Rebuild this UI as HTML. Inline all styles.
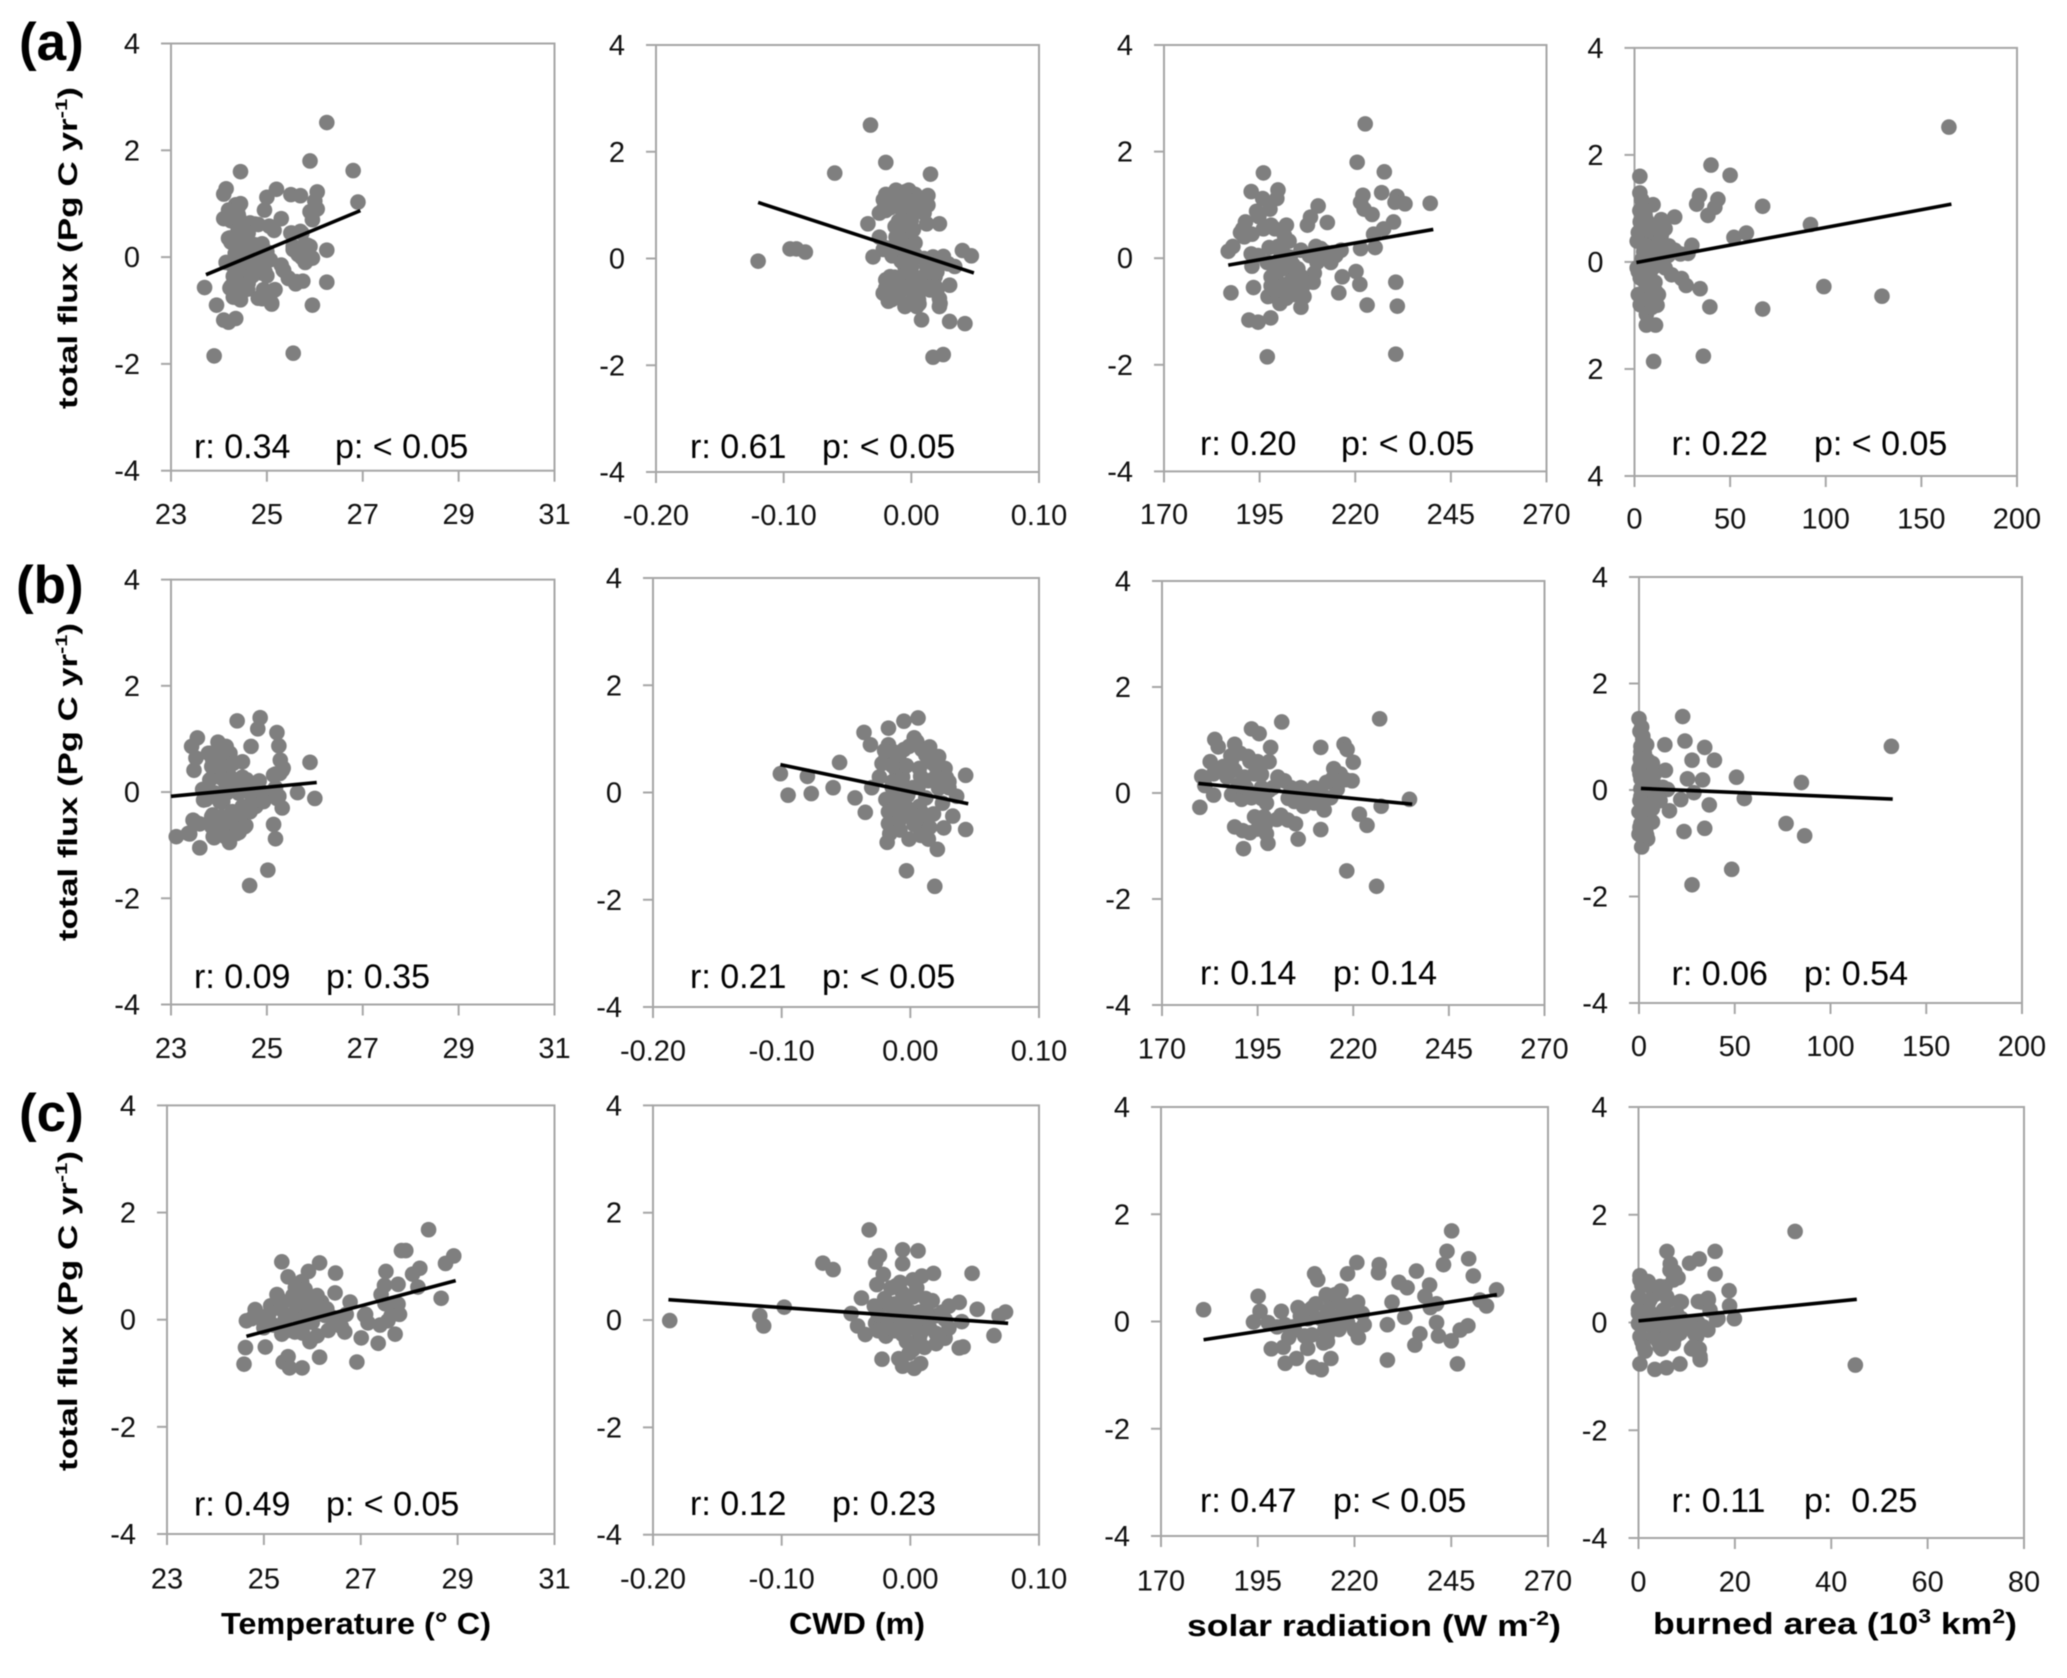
<!DOCTYPE html>
<html lang="en">
<head>
<meta charset="utf-8">
<title>Total flux versus climate drivers</title>
<style>
html,body{margin:0;padding:0;background:#fff;}
svg{display:block;filter:blur(0.5px);}
text{font-family:"Liberation Sans",sans-serif;fill:#000;}
.tick{font-size:29px;fill:#111;}
.note{font-size:34px;fill:#000;}
.bold{font-weight:bold;}
</style>
</head>
<body>
<svg id="chart" xmlns="http://www.w3.org/2000/svg" width="2067" height="1678" viewBox="0 0 2067 1678">
<rect x="0" y="0" width="2067" height="1678" fill="#fff"/>
<text class="bold" x="19" y="60" font-size="53">(a)</text>
<text class="bold" x="16" y="603" font-size="53">(b)</text>
<text class="bold" x="19" y="1131" font-size="53">(c)</text>
<text class="bold" font-size="27" text-anchor="middle" textLength="322" lengthAdjust="spacingAndGlyphs" transform="translate(77,248) rotate(-90)">total flux (Pg C yr<tspan font-size="17" dy="-10">-1</tspan><tspan dy="10">)</tspan></text>
<text class="bold" font-size="27" text-anchor="middle" textLength="318" lengthAdjust="spacingAndGlyphs" transform="translate(77,782) rotate(-90)">total flux (Pg C yr<tspan font-size="17" dy="-10">-1</tspan><tspan dy="10">)</tspan></text>
<text class="bold" font-size="27" text-anchor="middle" textLength="320" lengthAdjust="spacingAndGlyphs" transform="translate(77,1311) rotate(-90)">total flux (Pg C yr<tspan font-size="17" dy="-10">-1</tspan><tspan dy="10">)</tspan></text>
<text class="bold" x="221" y="1634" font-size="31" textLength="270" lengthAdjust="spacingAndGlyphs">Temperature (° C)</text>
<text class="bold" x="789" y="1634" font-size="31" textLength="136" lengthAdjust="spacingAndGlyphs">CWD (m)</text>
<text class="bold" x="1187" y="1636" font-size="31" textLength="374" lengthAdjust="spacingAndGlyphs">solar radiation (W m<tspan font-size="20" dy="-11">-2</tspan><tspan dy="11">)</tspan></text>
<text class="bold" x="1653" y="1634" font-size="31" textLength="364" lengthAdjust="spacingAndGlyphs">burned area (10<tspan font-size="20" dy="-11">3</tspan><tspan dy="11"> km</tspan><tspan font-size="20" dy="-11">2</tspan><tspan dy="11">)</tspan></text>
</svg>
<script>
// ---- axis values ----
const yTicks=[-4,-2,0,2,4];
const yTickLabels=["-4","-2","0","2","4"];
const yTickLabelsA4=["4","2","0","2","4"];
const tempTicks=[23,25,27,29,31];
const tempTickLabels=["23","25","27","29","31"];
const cwdTicks=[-0.2,-0.1,0,0.1];
const cwdTickLabels=["-0.20","-0.10","0.00","0.10"];
const solarTicks=[170,195,220,245,270];
const solarTickLabels=["170","195","220","245","270"];
const burnTicks=[0,50,100,150,200];
const burnTickLabels=["0","50","100","150","200"];
const burnTicksC=[0,20,40,60,80];
const burnTickLabelsC=["0","20","40","60","80"];

// ---- row (a) series ----
const a1X=[26.25,25.9,26.8,24.45,26.9,25.2,24.15,24.1,25.0,25.5,25.7,26.05,26.0,24.45,24.35,24.2,26.05,25.9,24.95,24.4,25.95,25.3,24.1,24.25,24.75,25.05,24.5,24.4,25.15,25.5,25.7,24.2,24.25,24.5,24.6,24.9,25.85,26.25,25.8,25.55,25.65,25.9,25.95,25.8,24.8,25.0,24.5,24.7,24.15,24.45,24.95,25.3,25.35,24.9,25.0,24.7,24.6,25.45,25.6,25.75,26.25,24.4,24.25,23.7,24.4,24.6,25.15,25.0,24.3,24.45,24.9,25.1,25.95,23.95,24.35,24.1,24.2,23.9,25.55,
24.41,24.23,24.41,24.65,24.82,24.23,24.41,24.61,24.34,24.54,24.75,24.93,25.07,24.30,24.54,24.79,24.30,24.48,24.72,24.96,24.23,24.41,24.61,24.41,25.52,25.73,25.55,25.76,25.90,25.73,25.90,25.55,25.34,25.45,25.62,24.93,25.17,25.03,24.82,25.10];
const a1Y=[2.52,1.8,1.62,1.6,1.03,1.27,1.28,1.18,1.12,1.17,1.15,1.22,1.05,1.0,0.98,0.88,0.9,0.85,0.88,0.8,0.7,0.72,0.72,0.68,0.62,0.58,0.6,0.5,0.5,0.45,0.48,0.35,0.28,0.35,0.3,0.25,0.22,0.13,0.1,0.15,0.05,0,-0.02,-0.1,0.1,0.1,0.1,-0.05,-0.1,-0.15,-0.1,-0.15,-0.25,-0.3,-0.35,-0.35,-0.4,-0.4,-0.5,-0.45,-0.47,-0.45,-0.55,-0.57,-0.7,-0.6,-0.62,-0.65,-0.75,-0.8,-0.78,-0.88,-0.9,-0.9,-1.15,-1.18,-1.22,-1.85,-1.8,
0.95,0.76,0.76,0.64,0.61,0.36,0.33,0.45,0.07,0.2,0.23,0.11,-0.05,-0.17,-0.11,-0.11,-0.36,-0.36,-0.30,-0.27,-0.58,-0.58,-0.49,-0.77,0.45,0.45,0.2,0.2,0.2,-0.01,-0.02,0.14,-0.24,-0.39,-0.46,-0.61,-0.61,-0.74,-0.77,-0.86];
const a1TrendX=[23.73,26.95];
const a1TrendY=[-0.33,0.87];

const a2X=[-0.12,-0.095,-0.09,-0.083,-0.06,-0.032,-0.02,0.015,0.013,-0.02,-0.018,-0.012,-0.005,-0.002,0.003,0.008,0.013,-0.012,-0.02,-0.025,-0.008,0.002,-0.002,0.01,0.022,0.012,-0.034,-0.01,-0.005,0,-0.008,-0.003,-0.012,-0.01,-0.03,-0.025,-0.02,-0.015,-0.005,0,-0.005,0.01,0.017,0.022,0.029,0.04,0.047,0.034,0,-0.008,-0.005,-0.013,-0.02,0,-0.005,0.01,0.015,0.02,0.03,-0.02,-0.022,-0.018,-0.01,-0.01,0,0.005,-0.002,-0.005,0.006,0.015,0.02,0.022,0.022,0.008,0.03,0.042,0.017,0.025,
-0.0219,-0.0127,-0.0036,0.0042,-0.0166,-0.0088,0.0003,-0.0219,-0.0127,-0.0049,0.0016,-0.0101,-0.0023,0.0029,-0.0219,-0.0127,-0.0036,0.0029,-0.0062,0.0003,0.0121,0.0199,-0.0166,-0.0075,0.0016,0.0095,0.0186,-0.0166,-0.0075,0.0003,0.0095,0.0186,-0.0153,-0.0036,0.0056,0.0147,0.0225,0.0042,0.0251];
const a2Y=[-0.05,0.18,0.18,0.12,1.6,2.5,1.8,1.58,1.18,1.2,1.1,1.28,1.25,1.28,1.2,1.1,1.0,1.05,0.9,0.85,0.95,0.95,0.85,0.85,0.65,0.65,0.65,0.7,0.7,0.72,0.55,0.5,0.4,0.45,0.03,0.4,0.2,0.05,0.2,0.3,0.38,0,0.03,-0.05,-0.1,0.15,0.05,-0.15,-0.05,-0.05,-0.15,-0.35,-0.4,-0.3,-0.5,-0.4,-0.3,-0.25,-0.5,-0.55,-0.65,-0.8,-0.7,-0.55,-0.6,-0.7,-0.85,-0.9,-0.85,-0.55,-0.6,-0.75,-0.9,-1.15,-1.18,-1.22,-1.85,-1.8,
1.1,1.17,1.17,1.1,0.95,0.95,0.95,0.92,0.6,0.6,0.54,0.42,0.35,0.29,0.17,0.17,0.1,0.07,-0.05,-0.15,-0.15,-0.15,-0.34,-0.34,-0.34,-0.34,-0.34,-0.59,-0.52,-0.59,-0.52,-0.52,-0.77,-0.87,-0.77,-0.59,-0.84,-0.9,0.04];
const a2TrendX=[-0.12,0.049];
const a2TrendY=[1.05,-0.27];

const a3X=[186.8,188,187.5,190.6,191.3,190,192.8,195.8,196,199.8,199.5,197.7,194.2,194.8,192.8,193,194.6,193.4,197.5,198,199,202,201.5,202.7,199.8,200.6,197,199,192.2,194.6,197.9,197,203.7,204,203,199.8,201.5,198,197.2,199.8,200.3,202.4,204,205.8,206.6,207.5,209.3,210,205.8,209.7,211,213.6,216.3,214.9,216.6,215.7,207.5,208.3,210.3,212.7,220.5,221.4,222,222.3,224.4,222.6,227.6,226.9,230.9,230.4,233,239.6,230,227.4,224.8,221.4,225.2,220.2,221.2,223.1,230.6,231,230.6,
201,203,205,201,206,199,202,206,198,201,204,208,196,209,212,214,193,191];
const a3Y=[0.13,0.22,-0.65,0.55,0.68,0.48,1.25,1.12,1.6,1.28,1.12,0.92,0.88,0.78,0.08,-0.15,0.05,-0.55,0.2,0.62,0.55,0.62,0.42,0.32,0.22,0.08,-0.08,-0.15,-1.16,-1.2,-1.12,-1.85,-0.12,-0.32,-0.45,-0.45,-0.5,-0.52,-0.72,-0.7,-0.85,-0.65,-0.68,-0.92,-0.72,-0.45,-0.28,-0.08,0.15,0.22,0.18,-0.08,0.15,0.05,-0.35,-0.65,0.62,0.77,0.98,0.67,1.8,1.05,1.18,0.92,0.82,2.52,1.62,1.23,1.16,1.05,1.02,1.03,0.68,0.55,0.45,0.18,0.2,-0.25,-0.49,-0.88,-0.45,-0.9,-1.8,
0.12,0.02,-0.2,-0.2,-0.35,-0.6,-0.75,-0.6,-0.35,-0.6,-0.45,0.05,0.55,-0.45,0.12,0.1,0.45,0.4];
const a3TrendX=[186.8,240.4];
const a3TrendY=[-0.13,0.54];

const a4X=[164.4,40,50,2.8,34,43.6,32.5,42,67,38.4,92,58.5,52,99,129.4,67,39.4,34.3,36,10,6.2,11,2.8,3.8,9.7,2.8,5.5,21,14,16,4,10.7,1.4,5.5,12.5,9,30,28,21,17.6,1.4,7.3,10.7,16,19.4,24.6,27,2,5.5,10.7,3.8,7.3,11.8,12.5,3.8,9,6.2,2,8.3,14,4.8,
3,6,10,14,6,11,4,8,14,3,7,11,5,9,13,2,16,7,4,12,3,7,18,24];
const a4Y=[2.52,1.81,1.62,1.6,1.24,1.17,1.08,1.02,1.04,0.87,0.7,0.54,0.46,-0.46,-0.64,-0.88,-0.84,-0.5,-1.76,-1.86,-1.18,-1.18,1.29,1.16,1.07,0.96,0.89,0.84,0.79,0.62,0.69,0.69,0.39,0.46,0.46,0.26,0.31,0.16,0.22,0.12,-0.11,0.02,-0.08,-0.11,-0.24,-0.31,-0.44,-0.61,-0.38,-0.38,-0.78,-0.88,-0.81,-0.61,-0.31,-0.64,-0.98,-0.18,-0.18,0.26,0.19,
0.75,0.8,0.55,0.5,0.3,0.1,0.05,0.15,0.02,-0.3,-0.45,-0.55,-0.65,-0.85,0.35,0.55,0.3,0.6,1.0,0.7,-0.8,-0.7,0.3,0.15];
const a4TrendX=[1,165.7];
const a4TrendY=[-0.01,1.08];

// ---- row (b) series ----
const b1X=[24.86,24.38,24.81,25.21,23.55,23.43,23.98,24.15,24.67,25.25,23.52,23.48,23.8,23.87,24.15,24.49,25.28,25.9,25.32,25.18,24,24.2,23.87,24.49,24.84,24.15,23.66,25.64,26,25.18,24.7,24.42,23.73,24.08,24.9,25.25,25.32,24.77,24.49,24.28,23.87,23.46,23.6,25.14,23.39,23.11,23.9,24.22,23.6,25.18,24.56,24.08,24.42,24.28,25.02,24.64,
23.78,24.02,24.23,23.85,24.09,24.30,23.81,24.06,24.34,24.58,24.82,23.71,23.92,24.16,24.41,24.65,24.93,25.14,23.68,24.02,24.68,24.93,25.21,24.65,24.44,23.85,24.06,24.27,23.85,24.06,24.30,24.54,23.88,24.13,24.37,25.27,25.34,25.14,23.5,23.36];
const b1Y=[1.4,1.34,1.19,1.12,1.02,0.86,0.94,0.86,0.86,0.87,0.64,0.41,0.73,0.6,0.6,0.57,0.6,0.56,0.41,0.34,0.41,0.34,0.28,0.28,0.21,0.15,0.05,-0.01,-0.12,0.08,0.05,0.08,-0.14,-0.18,-0.08,-0.08,-0.3,-0.27,-0.27,-0.37,-0.43,-0.53,-0.6,-0.61,-0.79,-0.84,-0.86,-0.95,-1.05,-0.88,-0.63,-0.66,-0.76,-0.63,-1.47,-1.76,
0.73,0.7,0.73,0.48,0.48,0.54,0.23,0.26,0.23,0.23,0.16,0.01,-0.02,-0.02,-0.02,-0.02,-0.02,-0.02,-0.15,-0.18,-0.21,-0.18,-0.12,-0.37,-0.46,-0.46,-0.46,-0.5,-0.65,-0.68,-0.68,-0.65,-0.84,-0.84,-0.78,0.35,0.45,0.32,-0.56,-0.78];
const b1TrendX=[23.0,26.04];
const b1TrendY=[-0.08,0.18];

const b2X=[-0.101,-0.095,-0.08,-0.077,-0.06,-0.055,-0.043,-0.035,-0.036,-0.031,-0.017,-0.005,0.006,0.003,-0.001,-0.017,-0.019,-0.011,-0.022,-0.009,0.009,0.022,0.007,0.027,0.02,0.043,-0.024,-0.006,0.014,-0.03,0.03,-0.014,0.002,0.036,-0.019,-0.006,0.007,0.025,-0.017,0.002,-0.017,0.033,0.007,0.026,0.043,-0.016,-0.001,-0.018,0.014,0.021,-0.003,0.019,
-0.012,-0.005,0.005,0.012,0.017,0.008,-0.003,-0.014,-0.008,0.02,0.022,0.006,-0.012,-0.002,0.012,-0.012,-0.002,0.01,0.018,-0.008,0.003,0.015,0.008,-0.008,-0.014,0.028,0.03,-0.02,0.015];
const b2Y=[0.35,-0.05,0.3,-0.02,0.09,0.56,-0.1,-0.37,1.12,0.89,1.2,1.33,1.39,1.02,0.86,0.89,0.64,0.41,0.54,0.67,0.8,0.67,0.45,0.45,0.48,0.32,0.29,0.29,0.22,0.09,0.09,0.09,0.09,-0.07,-0.13,-0.16,-0.26,-0.2,-0.36,-0.42,-0.58,-0.44,-0.61,-0.66,-0.69,-0.77,-0.87,-0.93,-0.87,-1.06,-1.46,-1.75,
0.75,0.8,0.95,0.7,0.55,0.3,0.5,0.5,0.15,0.3,0.08,0.1,-0.1,-0.05,-0.1,-0.3,-0.3,-0.4,-0.4,-0.5,-0.6,-0.65,-0.8,-0.7,0.2,0.28,0.2,0.78,0.85];
const b2TrendX=[-0.101,0.045];
const b2TrendY=[0.52,-0.21];

const b3X=[179.9,180.4,181.2,183.5,182.6,183.8,184.7,183.5,189,193.4,195.4,201.3,198.4,190.4,188.2,192.5,195,198,189,191.6,194.2,200.3,202,188.2,190.8,193.4,196,197.3,203.7,206.3,209.8,204.6,207.2,209.8,212.4,214.1,215.8,214.9,216.6,214.6,219.7,220,217.6,218.4,211.5,201.1,202.9,204.9,189,191.1,194.2,196.7,195,197.3,197.7,191.3,205.6,211.5,221.6,223.6,227.3,234.7,226.9,218.3,226.1,
186,193,196,192,196,190,199,204,208,212,215,218,198,203,207,200,193,197,187,213,194,188];
const b3Y=[-0.27,0.31,0.14,0.36,0.59,1.01,0.87,-0.04,0.92,1.21,1.12,1.34,0.86,0.75,0.62,0.69,0.59,0.59,0.43,0.3,0.36,0.3,0.23,-0.03,-0.12,-0.09,0.1,-0.19,0.1,0.1,0.1,-0.16,-0.16,-0.19,-0.32,-0.09,0.07,0.46,0.36,0.27,0.23,0.58,0.92,0.82,0.86,-0.42,-0.51,-0.58,-0.64,-0.71,-0.45,-0.45,-0.68,-0.77,-0.95,-1.05,-0.87,-0.69,-0.4,-0.61,-0.25,-0.12,1.4,-1.47,-1.76,
0.5,0.6,0.35,0.1,-0.1,0.15,0.1,0.02,-0.05,-0.05,0.2,0.25,0.05,-0.1,-0.25,-0.5,-0.75,-0.6,0.3,0.2,-0.02,0.7];
const b3TrendX=[179.5,235.4];
const b3TrendY=[0.18,-0.21];

const b4X=[0,1.4,2,1,2.8,0.7,4.5,7,0,2.8,1,8,13.8,13.5,22.8,24,34.3,27.7,39.4,25.3,33.2,50.9,84.8,131.8,12.5,14.9,28.7,21.8,36.7,55,15.9,8,1,4.5,0,7,2.8,1,3.5,0,4.5,1.4,9.7,5.5,23.5,34.3,76.8,86.5,48.4,27.7,
0.5,2,1,3,5,1,0.5,4,1,6,3,6,0.5,2,5,1,3,7,0.5,2,10,8,11,3,4,4,7];
const b4Y=[1.34,1.18,1.01,0.82,0.69,0.59,0.56,0.43,0.4,0.3,0.21,0.11,0.37,0.85,1.38,0.92,0.8,0.56,0.56,0.21,0.19,0.24,0.14,0.82,0.05,0.01,-0.05,-0.18,-0.28,-0.16,-0.39,-0.21,-0.12,-0.31,-0.41,-0.6,-0.5,-0.63,-0.76,-0.83,-0.92,-1.07,-0.08,-0.02,-0.78,-0.72,-0.63,-0.86,-1.49,-1.78,
1.1,0.95,0.72,0.45,0.4,0.5,0.3,0.15,0.02,0.25,-0.05,-0.1,-0.2,-0.25,-0.5,-0.4,-0.65,-0.35,-0.7,-0.9,0.02,0.3,-0.2,0.6,0.85,-0.85,0.5];
const b4TrendX=[1,132.5];
const b4TrendY=[0.03,-0.17];

// ---- row (c) series ----
const c1X=[28.4,27.84,27.93,28.92,28.75,28.22,28.07,27.52,27.77,28.18,27.49,27.42,28.66,27.77,27.63,27.56,27.71,27.36,27.08,27.15,27.01,26.92,25.37,26.15,26.48,25.5,25.92,25.78,25.27,26.47,25.85,25.58,26.78,26.19,25.14,24.82,25.99,25.71,24.64,24.96,25.44,25.78,26.26,26.53,26.67,26.33,25.37,25.64,25.95,24.62,25.03,26.15,25.5,25.4,25.53,25.79,24.59,26.6,
25.1,25.35,25.6,25.8,26.1,26.3,25.6,25.8,26.05,25.2,25.5,25.8,26,26.4,26.7,25.85,25.3,25.65,27.1,27.4,27.8,26.1,25,25.7,27.5,24.75];
const c1Y=[1.68,1.29,1.29,1.19,1.05,0.96,0.85,0.9,0.66,0.61,0.64,0.47,0.4,0.29,0.08,-0.02,-0.27,-0.44,0.08,-0.06,-0.34,-0.79,1.08,1.06,0.87,0.8,0.9,0.71,0.47,0.5,0.57,0.36,0.33,0.33,0.26,0.19,0.29,0.22,-0.02,0.01,0.01,-0.02,0.08,-0.06,-0.23,-0.2,-0.27,-0.23,-0.41,-0.52,-0.51,-0.7,-0.69,-0.79,-0.9,-0.9,-0.83,-0.13,
0.1,0.2,0.45,0.4,0.45,0.2,0.1,0.15,0.15,-0.1,-0.2,-0.25,-0.05,0.05,0.1,0.05,0.4,0.6,0.1,-0.1,0.1,-0.3,-0.15,0.32,0.3,0.02];
const c1TrendX=[24.64,28.96];
const c1TrendY=[-0.31,0.73];

const c2X=[-0.187,-0.117,-0.114,-0.098,-0.068,-0.06,-0.046,-0.041,-0.032,-0.024,-0.027,-0.021,-0.026,-0.038,-0.006,0.006,-0.006,0.018,0.009,0.002,-0.011,-0.006,0.002,0.048,0.017,0.038,0.052,0.03,0.074,0.069,-0.028,-0.017,-0.006,0.007,0.02,-0.027,-0.017,-0.004,0.012,0.027,0.04,-0.035,-0.019,-0.006,0.007,0.02,0.027,0.011,0.038,0.041,0.065,-0.022,-0.009,-0.006,0.003,0.008,-0.001,
-0.02,-0.012,-0.005,0.005,0,-0.012,0.012,0.025,-0.025,-0.015,-0.008,0.003,0.013,-0.025,-0.012,0.002,0.015,0.03,-0.003,0.008,0.02,-0.008,0.002,-0.015,0.012];
const c2Y=[-0.01,0.08,-0.11,0.24,1.06,0.94,0.12,-0.11,1.68,1.2,1.08,0.85,0.66,0.41,1.31,1.29,1.05,0.87,0.82,0.75,0.64,0.5,0.43,0.87,0.36,0.33,0.2,0.26,0.15,0.08,0.26,0.29,0.26,0.15,0.08,-0.06,-0.06,-0.02,-0.06,0.01,-0.03,-0.27,-0.3,-0.27,-0.34,-0.44,-0.34,-0.51,-0.52,-0.5,-0.29,-0.73,-0.72,-0.86,-0.9,-0.81,-0.62,
0.4,0.3,0.35,0.6,0.15,0.1,0.4,0.15,0.1,0.05,-0.12,0.05,0.1,-0.2,-0.2,-0.15,-0.15,-0.15,-0.4,-0.25,-0.25,0.7,-0.55,0.6,0.2];
const c2TrendX=[-0.188,0.076];
const c2TrendY=[0.38,-0.06];

const c3X=[181,195.1,193.9,195.6,198.5,201.6,202.1,205,209.3,211.4,213.9,207.9,213,201.1,205.4,197.7,202,204.5,207.1,209.7,210.5,210,212.7,216.5,218.2,220.6,226.4,226.2,220.8,216.5,213,211.4,214.9,212.3,218.2,222.5,220,221,228.5,228.5,229.7,233,231.5,233.6,236,239.4,238.2,239.6,241.2,236.9,235.6,241.2,241.7,245,247.3,249.3,246.6,243,243.9,245.1,249.5,250.7,256.7,252.4,254.1,
204,208,212,216,219,209,213,216,208,214,219,212,200,206,222,203,215,209];
const c3Y=[0.22,0.47,-0.01,0.19,-0.51,-0.48,-0.78,-0.69,-0.85,-0.9,-0.69,-0.5,-0.37,0.19,0.26,-0.02,-0.06,-0.16,-0.27,0.89,0.78,0.33,0.5,0.57,0.89,1.1,1.06,0.91,0.36,0.33,0.19,0.05,-0.02,-0.16,-0.02,-0.06,-0.16,-0.3,-0.72,-0.06,0.36,0.08,0.73,0.63,0.94,0.68,0.47,0.26,0.33,-0.23,-0.44,-0.02,-0.27,-0.36,-0.16,-0.08,-0.79,1.06,1.31,1.69,1.17,0.85,0.59,0.4,0.29,
-0.1,0.05,0.05,0.1,0.2,-0.25,-0.25,-0.15,0.2,0.35,0.3,-0.4,-0.1,0.1,0.15,-0.3,0.5,0.25];
const c3TrendX=[181,256.8];
const c3TrendY=[-0.34,0.5];

const c4X=[32.5,45,5.9,15.9,12.6,10.6,6.6,15.9,7.5,8.2,0.3,2,0.7,5.5,18.8,14.4,13,8.9,6.2,3.4,0,2,18.9,19.9,16.5,0,3.4,6.2,8.9,12.3,14.4,0.7,3.4,6.2,8.9,11.7,0.7,4.1,7.5,1.4,4.8,11,12.6,12.8,0.3,3.4,5.8,8.6,
0.31,2.39,4.46,6.54,7.23,0,2.39,5.85,8.61,0,2.39,5.16,7.92,0,2.39,5.16,7.92,10.69,13.45,16.22,0.31,3.08,5.85,8.61,12.07,1.0,4.46,7.23,11.38,12.76,12.42,14.49,14.84];
const c4Y=[1.69,-0.79,1.32,1.32,1.18,1.1,1.09,0.9,0.94,0.83,0.87,0.76,0.69,0.66,0.59,0.45,0.38,0.38,0.41,0.52,0.48,0.34,0.31,0.07,0.07,0.17,0.14,0.14,0.07,0,-0.14,-0.07,-0.14,-0.14,-0.14,-0.21,-0.35,-0.35,-0.28,-0.53,-0.49,-0.49,-0.49,-0.69,-0.77,-0.87,-0.84,-0.77,
0.79,0.67,0.67,0.97,0.79,0.48,0.42,0.48,0.39,0.23,0.17,0.23,0.17,-0.02,-0.05,-0.02,-0.02,-0.02,-0.08,0.05,-0.26,-0.26,-0.26,-0.2,-0.26,-0.45,-0.45,-0.39,-0.45,-0.63,0.39,0.42,0.23];
const c4TrendX=[0,45.3];
const c4TrendY=[0.03,0.43];

// ---- panel layout (plot frame in page pixels, label placement) ----
const panels=[
 {id:'a1',l:171,r:554.5,t:43.5,b:470.7,ly:524,xs:a1X,ys:a1Y,tx:a1TrendX,ty:a1TrendY,xt:tempTicks,xl:tempTickLabels,yl:yTickLabels,r_:'r: 0.34',p:'p: < 0.05',rx:194,px:335,ny:458},
 {id:'a2',l:656,r:1039,t:45,b:472,ly:525,xs:a2X,ys:a2Y,tx:a2TrendX,ty:a2TrendY,xt:cwdTicks,xl:cwdTickLabels,yl:yTickLabels,r_:'r: 0.61',p:'p: < 0.05',rx:690,px:822,ny:458},
 {id:'a3',l:1164,r:1546.5,t:45,b:471.4,ly:524,xs:a3X,ys:a3Y,tx:a3TrendX,ty:a3TrendY,xt:solarTicks,xl:solarTickLabels,yl:yTickLabels,r_:'r: 0.20',p:'p: < 0.05',rx:1200,px:1341,ny:455},
 {id:'a4',l:1634.5,r:2017,t:47.9,b:476,ly:528.6,xs:a4X,ys:a4Y,tx:a4TrendX,ty:a4TrendY,xt:burnTicks,xl:burnTickLabels,yl:yTickLabelsA4,r_:'r: 0.22',p:'p: < 0.05',rx:1671.5,px:1814,ny:455},
 {id:'b1',l:171,r:554.5,t:579.6,b:1004.5,ly:1058,xs:b1X,ys:b1Y,tx:b1TrendX,ty:b1TrendY,xt:tempTicks,xl:tempTickLabels,yl:yTickLabels,r_:'r: 0.09',p:'p: 0.35',rx:194,px:326,ny:988},
 {id:'b2',l:653,r:1039,t:578,b:1007,ly:1060.7,xs:b2X,ys:b2Y,tx:b2TrendX,ty:b2TrendY,xt:cwdTicks,xl:cwdTickLabels,yl:yTickLabels,r_:'r: 0.21',p:'p: < 0.05',rx:690,px:822,ny:988},
 {id:'b3',l:1162,r:1544.5,t:581,b:1005,ly:1058.6,xs:b3X,ys:b3Y,tx:b3TrendX,ty:b3TrendY,xt:solarTicks,xl:solarTickLabels,yl:yTickLabels,r_:'r: 0.14',p:'p: 0.14',rx:1200,px:1333,ny:984.6},
 {id:'b4',l:1639,r:2022,t:577,b:1003,ly:1056,xs:b4X,ys:b4Y,tx:b4TrendX,ty:b4TrendY,xt:burnTicks,xl:burnTickLabels,yl:yTickLabels,r_:'r: 0.06',p:'p: 0.54',rx:1671.5,px:1804,ny:985},
 {id:'c1',l:167,r:554.5,t:1105.4,b:1534,ly:1588.7,xs:c1X,ys:c1Y,tx:c1TrendX,ty:c1TrendY,xt:tempTicks,xl:tempTickLabels,yl:yTickLabels,r_:'r: 0.49',p:'p: < 0.05',rx:194,px:326,ny:1515.6},
 {id:'c2',l:653,r:1039,t:1105.4,b:1534.7,ly:1588.7,xs:c2X,ys:c2Y,tx:c2TrendX,ty:c2TrendY,xt:cwdTicks,xl:cwdTickLabels,yl:yTickLabels,r_:'r: 0.12',p:'p: 0.23',rx:690,px:832,ny:1515},
 {id:'c3',l:1161,r:1548,t:1107,b:1536,ly:1590.6,xs:c3X,ys:c3Y,tx:c3TrendX,ty:c3TrendY,xt:solarTicks,xl:solarTickLabels,yl:yTickLabels,r_:'r: 0.47',p:'p: < 0.05',rx:1200,px:1333,ny:1512},
 {id:'c4',l:1638.5,r:2024,t:1107,b:1538,ly:1591.7,xs:c4X,ys:c4Y,tx:c4TrendX,ty:c4TrendY,xt:burnTicksC,xl:burnTickLabelsC,yl:yTickLabels,r_:'r: 0.11',p:'p:  0.25',rx:1671.5,px:1804,ny:1512}
];

const NS='http://www.w3.org/2000/svg';
const svg=document.getElementById('chart');
const AXIS='#a6a6a6';
const DOT='#7f7f7f';

function make(tag,attrs,parent){
  const node=document.createElementNS(NS,tag);
  for(const k in attrs){node.setAttribute(k,attrs[k]);}
  parent.appendChild(node);
  return node;
}

function drawPanel(p){
  const xMin=p.xt[0];
  const xMax=p.xt[p.xt.length-1];
  const sx=function(v){return p.l+(v-xMin)/(xMax-xMin)*(p.r-p.l);};
  const sy=function(v){return p.b-(v+4)/8*(p.b-p.t);};

  const g=make('g',{},svg);
  
  

  const frame=make('rect',{x:p.l,y:p.t,width:p.r-p.l,height:p.b-p.t,fill:'none',stroke:AXIS,'stroke-width':2},g);
  
  

  p.xt.forEach(function(v,i){
    const tick=make('line',{x1:sx(v),x2:sx(v),y1:p.b,y2:p.b+11,stroke:AXIS,'stroke-width':2},g);
    
    
    const lab=make('text',{x:sx(v),y:p.ly,'text-anchor':'middle',class:'tick'},g);
    lab.textContent=p.xl[i];
    
    
  });

  yTicks.forEach(function(v,i){
    const tick=make('line',{x1:p.l-10,x2:p.l,y1:sy(v),y2:sy(v),stroke:AXIS,'stroke-width':2},g);
    
    
    const lab=make('text',{x:p.l-31,y:sy(v)+10,'text-anchor':'end',class:'tick'},g);
    lab.textContent=p.yl[i];
    
    
  });

  p.xs.forEach(function(v,i){
    const dot=make('circle',{cx:sx(v),cy:sy(p.ys[i]),r:7.8,fill:DOT},g);
    
    
  });

  const trend=make('line',{x1:sx(p.tx[0]),y1:sy(p.ty[0]),x2:sx(p.tx[1]),y2:sy(p.ty[1]),stroke:'#000','stroke-width':3.6},g);
  
  

  const rText=make('text',{x:p.rx,y:p.ny,class:'note'},g);
  rText.textContent=p.r_;
  
  

  const pText=make('text',{x:p.px,y:p.ny,class:'note',style:'white-space:pre'},g);
  pText.textContent=p.p;
  
  
}

panels.forEach(drawPanel);
</script>
</body>
</html>
